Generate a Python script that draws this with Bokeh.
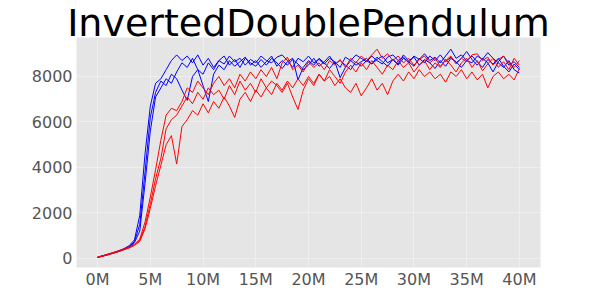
from bokeh.plotting import figure
from bokeh.models import Range1d, FixedTicker
from bokeh.embed import file_html
from bokeh.resources import INLINE

# timesteps in millions (one sample every 0.5M)
steps_m = [i * 0.5 for i in range(81)]

blue_1 = [60, 120, 190, 260, 340, 430, 560, 820, 1900, 4600, 6700, 7700, 7900, 8300, 8700, 8950,
          8700, 8900, 8600, 8950, 8500, 8800, 8400, 8700, 8550, 8900, 8650, 8800, 8500, 8750,
          8600, 8900, 8700, 8600, 8850, 8950, 8700, 8400, 8800, 8650, 8900, 8600, 8750, 8550,
          8800, 8650, 8400, 8850, 8700, 8950, 8800, 8650, 8900, 8700, 8550, 8850, 8950, 8700,
          8850, 8600, 8900, 8750, 9000, 8700, 8850, 8600, 8900, 9200, 8800, 8950, 8700, 8600,
          8900, 8750, 9050, 8800, 8600, 8400, 8700, 8300, 8150]
blue_2 = [50, 110, 170, 240, 310, 400, 520, 740, 1500, 3800, 6200, 7300, 7800, 7600, 8100, 7900,
          7400, 6950, 8000, 8300, 8100, 8600, 8300, 8700, 8900, 8500, 8750, 8400, 8800, 8600,
          8450, 8750, 8500, 8800, 8600, 8350, 8650, 8800, 7850, 8400, 8700, 8500, 8800, 8600,
          8350, 8650, 7950, 8400, 8700, 8500, 8650, 8800, 8550, 8750, 8900, 8600, 8750, 8500,
          8800, 8650, 8450, 8800, 8600, 8900, 8700, 8950, 8650, 8850, 8600, 8800, 9100, 8750,
          8500, 8800, 8600, 8200, 8650, 8900, 8500, 8650, 8400]
blue_3 = [40, 100, 160, 230, 300, 390, 490, 700, 1200, 3300, 5600, 7100, 7500, 7900, 7700, 8200,
          8600, 8400, 8800, 8300, 7600, 6900, 8100, 8500, 8300, 8700, 8450, 8650, 8850, 8500,
          8700, 8400, 8650, 8900, 8450, 8700, 8500, 8750, 8550, 8300, 8500, 8800, 8450, 8650,
          8900, 8550, 8700, 8500, 8300, 8650, 8450, 8700, 8550, 8850, 8650, 8450, 8750, 8550,
          8950, 8700, 8850, 8500, 8750, 8600, 8350, 8700, 8450, 8800, 8650, 8400, 8700, 8900,
          8650, 8400, 8750, 8550, 8800, 8450, 8200, 8550, 8300]

red_1 = [60, 120, 190, 260, 330, 410, 500, 620, 850, 1600, 2700, 3900, 5200, 6300, 6600, 6500,
         6900, 7500, 7300, 7800, 7500, 7200, 7700, 8000, 7600, 7900, 7500, 8100, 7800, 8200,
         7900, 8300, 8000, 8400, 7900, 8600, 8850, 8300, 8500, 8200, 8650, 8400, 8600, 8300,
         8700, 8500, 8750, 8400, 8800, 8600, 8900, 8700, 8950, 9200, 8800, 9000, 8700, 8900,
         8600, 8800, 8500, 8750, 8900, 8600, 8800, 8450, 8700, 8900, 8550, 8800, 8650, 8950,
         9000, 8700, 8850, 8500, 8750, 8900, 8600, 8400, 8700]
red_2 = [50, 110, 175, 245, 315, 395, 480, 600, 800, 1400, 2400, 3500, 4400, 5700, 6100, 6300,
         6700, 7100, 6800, 7300, 7000, 7500, 7200, 7400, 7000, 7600, 7200, 7800, 7400, 7700,
         7300, 7900, 7500, 7800, 7600, 7300, 7700, 7100, 6550, 7400, 7900, 7600, 8100, 7800,
         8300, 8000, 7700, 8200, 8500, 8200, 8600, 8300, 8700, 8400, 8100, 8500, 8300, 8700,
         8400, 8600, 8200, 8500, 8700, 8300, 8600, 8400, 8750, 8500, 8200, 8600, 8800, 8400,
         8700, 8250, 8550, 8800, 8400, 8650, 8300, 8800, 8500]
red_3 = [40, 100, 165, 235, 300, 380, 460, 570, 750, 1300, 2200, 3200, 4100, 5000, 5400, 4150,
         5800, 6100, 6500, 6300, 6800, 6400, 6900, 6600, 7100, 6700, 6200, 7000, 7300, 6900,
         7400, 7100, 7500, 7200, 7700, 7400, 7800, 7500, 7900, 7600, 8000, 7700, 8100, 7800,
         8000, 7600, 7900, 7500, 7300, 7700, 7150, 7500, 7900, 7400, 7700, 7200, 7800, 8100,
         7800, 8200, 7900, 8300, 8000, 8200, 7900, 8100, 7750, 8200, 8000, 8300, 7900, 8200,
         7850, 8100, 7500, 8000, 8200, 7900, 8100, 7850, 8350]

x_ticks = [0, 5, 10, 15, 20, 25, 30, 35, 40]
x_tick_labels = ["0M", "5M", "10M", "15M", "20M", "25M", "30M", "35M", "40M"]
y_ticks = [0, 2000, 4000, 6000, 8000]
title_text = "InvertedDoublePendulum"

p = figure(width=592, height=292, output_backend="svg", toolbar_location=None,
           x_range=Range1d(-2, 42), y_range=Range1d(-400, 9715),
           title=title_text,
           min_border_left=76, min_border_right=52, min_border_top=37, min_border_bottom=25)

p.title.align = "center"
p.title.vertical_align = "bottom"
p.title.text_font = "DejaVu Sans"
p.title.text_font_size = "38px"
p.title.text_font_style = "normal"
p.title.text_color = "black"
p.title.standoff = -14.4

p.background_fill_color = "#e5e5e5"
p.border_fill_color = "white"
p.outline_line_color = None

for s in (blue_1, blue_2, blue_3):
    p.line(steps_m, s, line_color="#0000ff", line_width=1)
for s in (red_1, red_2, red_3):
    p.line(steps_m, s, line_color="#ff0000", line_width=1)

p.xaxis.ticker = FixedTicker(ticks=x_ticks)
p.xaxis.major_label_overrides = dict(zip(x_ticks, x_tick_labels))
p.yaxis.ticker = FixedTicker(ticks=y_ticks)
p.yaxis.major_label_overrides = {t: str(t) for t in y_ticks}

for ax in (p.xaxis[0], p.yaxis[0]):
    ax.axis_line_color = None
    ax.major_tick_line_color = None
    ax.minor_tick_line_color = None
    ax.major_tick_out = 0
    ax.major_tick_in = 0
    ax.major_label_text_font = "DejaVu Sans"
    ax.major_label_text_font_size = "16px"
    ax.major_label_text_color = "#555555"
p.xaxis.major_label_standoff = 2
p.yaxis.major_label_standoff = 4

p.xgrid.grid_line_color = "white"
p.ygrid.grid_line_color = "white"
p.xgrid.grid_line_alpha = 0.35
p.ygrid.grid_line_alpha = 0.35
p.xgrid.ticker = FixedTicker(ticks=x_ticks)
p.ygrid.ticker = FixedTicker(ticks=y_ticks)

open("out.html", "w").write(file_html(p, INLINE))
